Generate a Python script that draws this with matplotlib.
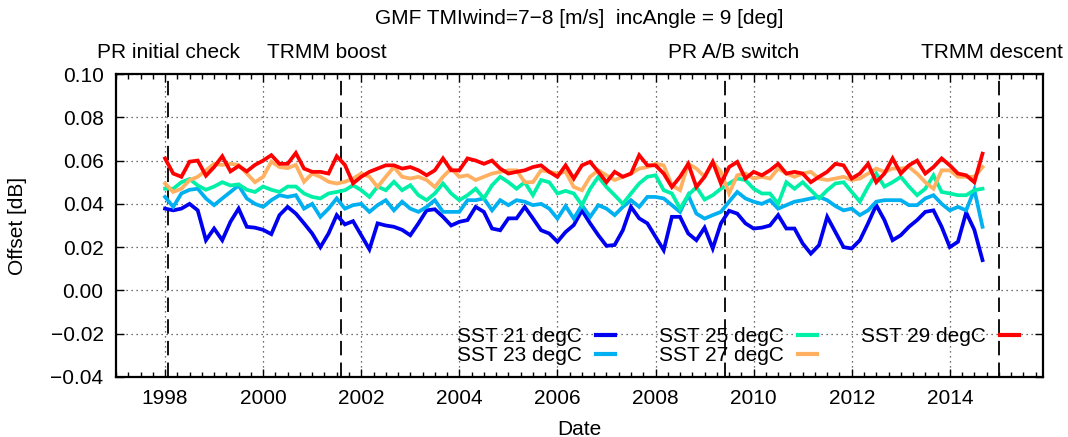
import numpy as np
import matplotlib
matplotlib.use("Agg")
import matplotlib.pyplot as plt
import matplotlib.transforms as mtransforms
from matplotlib.ticker import MultipleLocator, FormatStrFormatter, FuncFormatter

plt.rcParams['font.family'] = ['Liberation Sans', 'DejaVu Sans']
plt.rcParams['font.size'] = 15

# ---------------- data (bimonthly samples, decimal years) ----------------
n_points = 101
dates = 1998 + np.arange(n_points) / 6.0

sst21 = [0.0378, 0.0370, 0.0378, 0.0400, 0.0370, 0.0232,
         0.0286, 0.0232, 0.0317, 0.0378, 0.0294, 0.0290,
         0.0280, 0.0260, 0.0348, 0.0386, 0.0355, 0.0310,
         0.0263, 0.0200, 0.0263, 0.0348, 0.0305, 0.0320,
         0.0255, 0.0190, 0.0310, 0.0300, 0.0294, 0.0280,
         0.0255, 0.0310, 0.0370, 0.0375, 0.0340, 0.0300,
         0.0317, 0.0325, 0.0386, 0.0363, 0.0286, 0.0278,
         0.0333, 0.0333, 0.0386, 0.0333, 0.0278, 0.0263,
         0.0225, 0.0270, 0.0302, 0.0370, 0.0310, 0.0255,
         0.0206, 0.0210, 0.0278, 0.0386, 0.0333, 0.0310,
         0.0248, 0.0186, 0.0340, 0.0340, 0.0263, 0.0232,
         0.0290, 0.0194, 0.0310, 0.0368, 0.0355, 0.0310,
         0.0286, 0.0290, 0.0300, 0.0348, 0.0286, 0.0286,
         0.0217, 0.0170, 0.0209, 0.0340, 0.0270, 0.0200,
         0.0194, 0.0232, 0.0310, 0.0394, 0.0325, 0.0232,
         0.0255, 0.0294, 0.0325, 0.0363, 0.0370, 0.0294,
         0.0200, 0.0225, 0.0360, 0.0280, 0.0140]

sst23 = [0.0432, 0.0386, 0.0448, 0.0465, 0.0470, 0.0425,
         0.0394, 0.0425, 0.0455, 0.0485, 0.0425, 0.0400,
         0.0386, 0.0417, 0.0440, 0.0432, 0.0440, 0.0378,
         0.0400, 0.0340, 0.0378, 0.0425, 0.0378, 0.0394,
         0.0400, 0.0363, 0.0394, 0.0417, 0.0370, 0.0410,
         0.0378, 0.0363, 0.0386, 0.0417, 0.0363, 0.0363,
         0.0363, 0.0417, 0.0417, 0.0425, 0.0370, 0.0417,
         0.0394, 0.0417, 0.0410, 0.0394, 0.0400, 0.0378,
         0.0332, 0.0390, 0.0332, 0.0394, 0.0340, 0.0394,
         0.0378, 0.0348, 0.0386, 0.0417, 0.0386, 0.0432,
         0.0432, 0.0425, 0.0394, 0.0363, 0.0440, 0.0355,
         0.0332, 0.0348, 0.0363, 0.0410, 0.0455, 0.0425,
         0.0410, 0.0400, 0.0417, 0.0378, 0.0394, 0.0410,
         0.0417, 0.0425, 0.0432, 0.0417, 0.0390, 0.0370,
         0.0378, 0.0348, 0.0370, 0.0410, 0.0417, 0.0417,
         0.0417, 0.0394, 0.0394, 0.0425, 0.0440, 0.0400,
         0.0370, 0.0386, 0.0370, 0.0465, 0.0294]

sst25 = [0.0470, 0.0470, 0.0500, 0.0515, 0.0485, 0.0465,
         0.0480, 0.0500, 0.0485, 0.0490, 0.0465, 0.0455,
         0.0480, 0.0465, 0.0455, 0.0480, 0.0480, 0.0448,
         0.0432, 0.0425, 0.0448, 0.0455, 0.0463, 0.0486,
         0.0463, 0.0432, 0.0480, 0.0463, 0.0502, 0.0463,
         0.0486, 0.0440, 0.0417, 0.0448, 0.0494, 0.0448,
         0.0417, 0.0440, 0.0470, 0.0425, 0.0486, 0.0525,
         0.0500, 0.0470, 0.0500, 0.0440, 0.0510, 0.0500,
         0.0448, 0.0460, 0.0448, 0.0394, 0.0470, 0.0525,
         0.0478, 0.0440, 0.0400, 0.0448, 0.0494, 0.0525,
         0.0532, 0.0463, 0.0448, 0.0378, 0.0440, 0.0478,
         0.0420, 0.0440, 0.0470, 0.0494, 0.0517, 0.0510,
         0.0470, 0.0448, 0.0448, 0.0400, 0.0500, 0.0470,
         0.0500, 0.0463, 0.0425, 0.0463, 0.0494, 0.0500,
         0.0455, 0.0410, 0.0480, 0.0540, 0.0480, 0.0500,
         0.0525, 0.0480, 0.0440, 0.0470, 0.0532, 0.0455,
         0.0448, 0.0440, 0.0440, 0.0463, 0.0470]

sst27 = [0.0494, 0.0455, 0.0470, 0.0510, 0.0525, 0.0555,
         0.0585, 0.0580, 0.0585, 0.0580, 0.0540, 0.0500,
         0.0525, 0.0595, 0.0570, 0.0565, 0.0580, 0.0502,
         0.0540, 0.0525, 0.0502, 0.0494, 0.0502, 0.0517,
         0.0540, 0.0525, 0.0478, 0.0525, 0.0570, 0.0525,
         0.0517, 0.0525, 0.0510, 0.0478, 0.0525, 0.0563,
         0.0525, 0.0532, 0.0510, 0.0525, 0.0540, 0.0548,
         0.0555, 0.0555, 0.0500, 0.0500, 0.0555, 0.0548,
         0.0540, 0.0548, 0.0478, 0.0463, 0.0525, 0.0555,
         0.0532, 0.0510, 0.0525, 0.0540, 0.0563, 0.0570,
         0.0585, 0.0578, 0.0486, 0.0463, 0.0585, 0.0563,
         0.0525, 0.0594, 0.0548, 0.0448, 0.0532, 0.0540,
         0.0517, 0.0525, 0.0517, 0.0563, 0.0540, 0.0525,
         0.0540, 0.0548, 0.0517, 0.0510, 0.0517, 0.0525,
         0.0510, 0.0517, 0.0540, 0.0563, 0.0548, 0.0563,
         0.0563, 0.0570, 0.0540, 0.0500, 0.0470, 0.0555,
         0.0555, 0.0525, 0.0525, 0.0525, 0.0570]

sst29 = [0.0610, 0.0540, 0.0525, 0.0595, 0.0600, 0.0530,
         0.0570, 0.0620, 0.0550, 0.0575, 0.0550, 0.0580,
         0.0600, 0.0625, 0.0585, 0.0585, 0.0635, 0.0563,
         0.0548, 0.0548, 0.0540, 0.0620, 0.0580, 0.0495,
         0.0525, 0.0548, 0.0563, 0.0578, 0.0578, 0.0563,
         0.0570, 0.0555, 0.0532, 0.0555, 0.0610, 0.0555,
         0.0555, 0.0610, 0.0600, 0.0585, 0.0600, 0.0563,
         0.0540, 0.0548, 0.0555, 0.0570, 0.0578, 0.0548,
         0.0525, 0.0578, 0.0517, 0.0578, 0.0594, 0.0548,
         0.0500, 0.0548, 0.0525, 0.0540, 0.0625, 0.0578,
         0.0578, 0.0540, 0.0478, 0.0525, 0.0585, 0.0478,
         0.0525, 0.0594, 0.0494, 0.0570, 0.0594, 0.0517,
         0.0548, 0.0532, 0.0555, 0.0585, 0.0540, 0.0548,
         0.0540, 0.0500, 0.0525, 0.0548, 0.0585, 0.0578,
         0.0517, 0.0540, 0.0585, 0.0500, 0.0540, 0.0610,
         0.0540, 0.0578, 0.0600, 0.0540, 0.0570, 0.0610,
         0.0578, 0.0540, 0.0532, 0.0500, 0.0632]

series_labels = ["SST 21 degC", "SST 23 degC", "SST 25 degC",
                 "SST 27 degC", "SST 29 degC"]
series_colors = ["#0000f0", "#00b0f0", "#00f0a8", "#ffb060", "#ff0000"]

event_dates = [1998.06, 2001.58, 2009.42, 2015.0]
event_labels = ["PR initial check", "TRMM boost", "PR A/B switch", "TRMM descent"]
event_label_x = [1998.07, 2001.30, 2009.60, 2014.86]   # label centre positions

title = "GMF TMIwind=7\u22128 [m/s]  incAngle = 9 [deg]"

# ---------------- figure ----------------
fig = plt.figure(figsize=(10.68, 4.37), dpi=100)
ax = fig.add_axes([116 / 1068, 1 - 377 / 437, (1043 - 116) / 1068, (377 - 74) / 437])

for vals, lab, col in zip([sst21, sst23, sst25, sst27, sst29], series_labels, series_colors):
    ax.plot(dates, vals, color=col, lw=2.7, label=lab, zorder=3,
            solid_joinstyle='miter')

for d in event_dates:
    ax.axvline(d, color='black', lw=1.3, ls=(0, (8, 4)), zorder=2)

ax.set_xlim(1997.0, 2015.9)
ax.set_ylim(-0.04, 0.10)
ax.xaxis.set_major_locator(MultipleLocator(2))
ax.xaxis.set_minor_locator(MultipleLocator(0.25))
ax.yaxis.set_major_locator(MultipleLocator(0.02))
ax.yaxis.set_major_formatter(FuncFormatter(lambda v, p: ('%.2f' % v).replace('-', '\u2212')))
ax.xaxis.set_major_formatter(FormatStrFormatter('%d'))

ax.tick_params(which='both', direction='in', top=True, right=True, width=1.0)
ax.tick_params(which='major', length=6)
ax.tick_params(which='minor', length=3.5)
ax.tick_params(axis='x', which='major', pad=9)
ax.tick_params(axis='y', which='major', pad=9)

ax.grid(True, which='major', color='0.25', ls=(0, (1, 3)), lw=0.9, zorder=1)
for s in ax.spines.values():
    s.set_linewidth(1.6)

ax.set_xlabel("Date", labelpad=8)
ax.set_ylabel("Offset [dB]", va='center')
ax.yaxis.set_label_coords(18 / 1068, 0.5,
                          transform=mtransforms.blended_transform_factory(fig.transFigure, ax.transAxes))

fig.text(0.5426, 1 - 19 / 437, title, ha='center', va='center', fontsize=15)
label_tr = mtransforms.blended_transform_factory(ax.transData, fig.transFigure)
for lx, lab in zip(event_label_x, event_labels):
    ax.text(lx, 1 - 52 / 437, lab, ha='center', va='center', fontsize=15,
            transform=label_tr)

leg = ax.legend(ncol=3, loc='upper right', bbox_to_anchor=(1019 / 1068, 1 - 327 / 437),
                bbox_transform=fig.transFigure, frameon=False, markerfirst=False,
                handlelength=0.9, handletextpad=0.7, columnspacing=2.1,
                labelspacing=0.0, borderpad=0.0, borderaxespad=0.0, fontsize=15)
for h in leg.get_lines():
    h.set_linewidth(3)

fig.savefig("out.png", dpi=100)
